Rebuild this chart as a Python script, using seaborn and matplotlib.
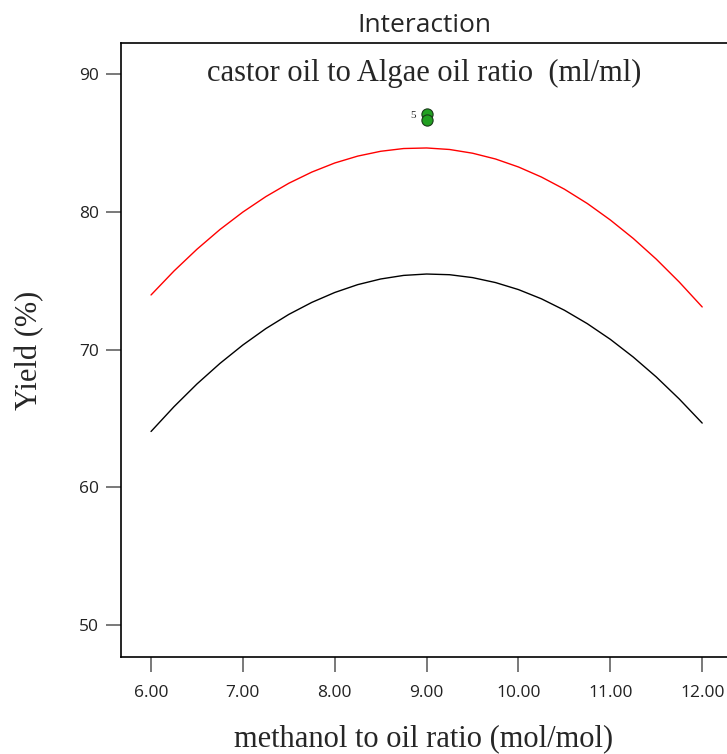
import matplotlib
matplotlib.use("Agg")
import matplotlib.pyplot as plt
import seaborn as sns
import pandas as pd

# data
x_vals = [6.0, 6.25, 6.5, 6.75, 7.0, 7.25, 7.5, 7.75, 8.0, 8.25, 8.5, 8.75, 9.0,
          9.25, 9.5, 9.75, 10.0, 10.25, 10.5, 10.75, 11.0, 11.25, 11.5, 11.75, 12.0]
red_vals = [73.96, 75.70, 77.28, 78.71, 79.98, 81.10, 82.07, 82.88, 83.54, 84.04, 84.39, 84.59, 84.63,
            84.52, 84.25, 83.83, 83.25, 82.52, 81.64, 80.60, 79.40, 78.06, 76.56, 74.90, 73.09]
black_vals = [64.05, 65.85, 67.50, 68.99, 70.33, 71.52, 72.55, 73.42, 74.14, 74.71, 75.12, 75.38, 75.48,
              75.43, 75.22, 74.86, 74.35, 73.68, 72.85, 71.87, 70.74, 69.45, 68.01, 66.41, 64.66]
pt_x = [9.0, 9.0]
pt_y = [87.1, 86.66]
pt_label = "5"
x_ticks = [6, 7, 8, 9, 10, 11, 12]
y_ticks = [50, 60, 70, 80, 90]

sns.set_style("white")

df = pd.DataFrame({
    "x": x_vals * 2,
    "y": red_vals + black_vals,
    "series": ["high"] * len(x_vals) + ["low"] * len(x_vals),
})
pts = pd.DataFrame({"x": pt_x, "y": pt_y})

fig = plt.figure(figsize=(7.27, 7.54), dpi=100)
ax = fig.add_axes([121 / 727, 97 / 754, (727 - 121) / 727, (657 - 43) / 754])

sns.lineplot(data=df, x="x", y="y", hue="series",
             palette={"high": "#ff0000", "low": "#000000"},
             linewidth=1.0, legend=False, ax=ax, sort=False)
sns.scatterplot(data=pts, x="x", y="y", color="#22a022", edgecolor="#1a3a1a",
                s=65, linewidth=0.8, ax=ax, zorder=5, legend=False)
ax.text(pt_x[0] - 0.12, pt_y[0] - 0.1, pt_label, ha="right", va="center",
        fontsize=8, family="Liberation Serif")

ax.set_xlim(5.673, 12.27)
ax.set_ylim(47.68, 92.25)
ax.set_xticks(x_ticks)
ax.set_xticklabels([f"{v:.2f}" for v in x_ticks])
ax.set_yticks(y_ticks)
ax.tick_params(axis="both", direction="out", length=11, width=1.1,
               color="#555555", labelsize=12.5, pad=5, bottom=True, left=True)
ax.tick_params(axis="x", pad=9)
for lab in ax.get_xticklabels() + ax.get_yticklabels():
    lab.set_family(["Open Sans", "DejaVu Sans"])
    lab.set_color("#222222")

for s in ["left", "bottom", "top"]:
    ax.spines[s].set_color("#000000")
    ax.spines[s].set_linewidth(1.2)
ax.spines["right"].set_visible(False)

ax.set_title("Interaction", fontsize=19, family=["Open Sans", "DejaVu Sans"], pad=8)
ax.text(0.5, 0.951, "castor oil to Algae oil ratio  (ml/ml)", transform=ax.transAxes,
        ha="center", va="center", fontsize=22, family="Liberation Serif")
ax.set_xlabel("methanol to oil ratio (mol/mol)", fontsize=22,
              family="Liberation Serif", labelpad=17)
ax.set_ylabel("Yield (%)", fontsize=22, family="Liberation Serif", labelpad=25)

fig.savefig("out.png", dpi=100)
